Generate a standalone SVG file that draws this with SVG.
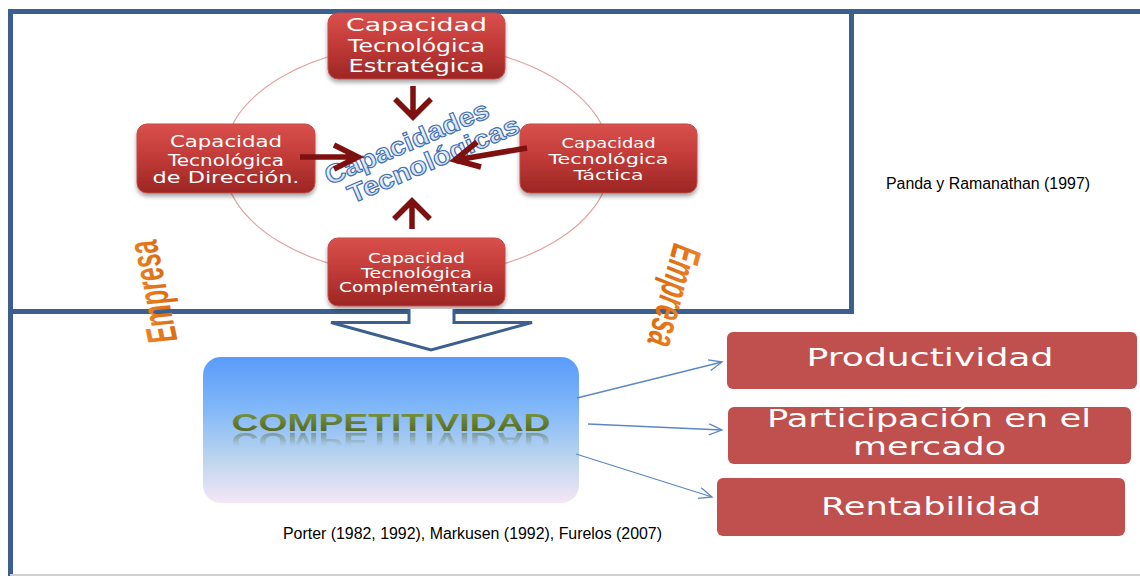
<svg xmlns="http://www.w3.org/2000/svg" width="1140" height="576" viewBox="0 0 1140 576">
<defs>
<style>
.frame{fill:none;stroke:#3b5f8f;stroke-width:5}
.cap{fill:url(#redG);stroke:#c24a47;stroke-width:1;filter:url(#sh)}
.capt{font-family:"DejaVu Sans",sans-serif;fill:#fff;text-anchor:middle}
.res{fill:#c0504d}
.rest{font-family:"DejaVu Sans",sans-serif;fill:#fff;text-anchor:middle;font-size:24px}
.cite{font-family:"Liberation Sans",Arial,sans-serif;font-size:16px;fill:#000}
.dred{fill:none;stroke:#7e1010;stroke-width:5.5}
.blue{fill:none;stroke:#5b87c4;stroke-width:1.3;marker-end:url(#ah)}
.emp{font-family:"Liberation Sans",sans-serif;font-weight:bold;font-style:italic;font-size:42px;fill:url(#orG);text-anchor:middle}
.ct{font-family:"Liberation Sans",sans-serif;font-weight:bold;font-size:26px;fill:url(#ctG);stroke:#3f6fb3;stroke-width:1.1;text-anchor:middle}
</style>
<linearGradient id="redG" x1="0" y1="0" x2="0" y2="1">
<stop offset="0" stop-color="#d9504c"/>
<stop offset="0.45" stop-color="#c33c39"/>
<stop offset="1" stop-color="#9c2624"/>
</linearGradient>
<linearGradient id="compG" x1="0" y1="0" x2="0" y2="1">
<stop offset="0" stop-color="#5a9bfb"/>
<stop offset="0.35" stop-color="#80b7f8"/>
<stop offset="0.7" stop-color="#bcd5ee"/>
<stop offset="1" stop-color="#f5e6f6"/>
</linearGradient>
<linearGradient id="orG" x1="0" y1="0" x2="0" y2="1">
<stop offset="0" stop-color="#f08a2c"/>
<stop offset="1" stop-color="#d9650a"/>
</linearGradient>
<linearGradient id="ctG" x1="0" y1="0" x2="0" y2="1">
<stop offset="0" stop-color="#ffffff"/>
<stop offset="1" stop-color="#c9daf0"/>
</linearGradient>
<linearGradient id="olG" x1="0" y1="0" x2="0" y2="1">
<stop offset="0" stop-color="#7d9a3e"/>
<stop offset="1" stop-color="#4a5f22"/>
</linearGradient>
<linearGradient id="refG" x1="0" y1="0" x2="0" y2="1">
<stop offset="0" stop-color="#fff" stop-opacity="0.5"/>
<stop offset="1" stop-color="#fff" stop-opacity="0"/>
</linearGradient>
<mask id="refM" maskUnits="userSpaceOnUse" x="200" y="432" width="380" height="20">
<rect x="200" y="433" width="380" height="13" fill="url(#refG)"/>
</mask>
<filter id="sh" x="-10%" y="-10%" width="120%" height="130%">
<feDropShadow dx="0" dy="3" stdDeviation="2" flood-color="#000" flood-opacity="0.35"/>
</filter>
<marker id="ah" markerUnits="userSpaceOnUse" markerWidth="16" markerHeight="14" refX="14" refY="6" orient="auto">
<path d="M1,0.5 L14,6 L1,11.5" fill="none" stroke="#5b87c4" stroke-width="1.3"/>
</marker>
</defs>

<rect x="0" y="0" width="1140" height="576" fill="#fff"/>

<g id="frame">
<path class="frame" d="M10.5,576 V11.5 H1140"/>
<path class="frame" d="M851.5,11.5 V311.5 H454"/>
<path class="frame" d="M409,311.5 H10.5"/>
<line x1="10" y1="575" x2="1140" y2="575" stroke="#d0d0d0" stroke-width="2"/>
<ellipse cx="417" cy="160" rx="194" ry="116" fill="none" stroke="#e3a4a2" stroke-width="1.2"/>
</g>

<g id="empresa-left">
<text class="emp" transform="translate(153,292) rotate(-102)" y="14" textLength="104" lengthAdjust="spacingAndGlyphs">Empresa</text>
</g>
<g id="empresa-right">
<text class="emp" transform="translate(674,296) rotate(105)" y="14" textLength="104" lengthAdjust="spacingAndGlyphs">Empresa</text>
</g>

<g id="capacidades-tecnologicas">
<g transform="translate(420,151) rotate(-23)">
<text class="ct" x="-9" y="-4" textLength="176" lengthAdjust="spacingAndGlyphs">Capacidades</text>
<text class="ct" x="9" y="22" textLength="184" lengthAdjust="spacingAndGlyphs">Tecnológicas</text>
</g>
</g>

<g id="cap-estrategica">
<rect class="cap" x="328" y="13" width="177" height="66" rx="10"/>
<text class="capt" font-size="18.5" x="416.5" y="31" textLength="141" lengthAdjust="spacingAndGlyphs">Capacidad</text>
<text class="capt" font-size="18.5" x="416.5" y="52" textLength="137" lengthAdjust="spacingAndGlyphs">Tecnológica</text>
<text class="capt" font-size="18.5" x="416.5" y="72" textLength="136" lengthAdjust="spacingAndGlyphs">Estratégica</text>
</g>

<g id="cap-direccion">
<rect class="cap" x="137" y="124" width="178" height="69" rx="10"/>
<text class="capt" font-size="16" x="226" y="147" textLength="112" lengthAdjust="spacingAndGlyphs">Capacidad</text>
<text class="capt" font-size="16" x="226" y="166" textLength="116" lengthAdjust="spacingAndGlyphs">Tecnológica</text>
<text class="capt" font-size="16" x="226" y="183" textLength="147" lengthAdjust="spacingAndGlyphs">de Dirección.</text>
</g>

<g id="cap-tactica">
<rect class="cap" x="520" y="124" width="177" height="69" rx="10"/>
<text class="capt" font-size="14.5" x="608.5" y="148" textLength="94" lengthAdjust="spacingAndGlyphs">Capacidad</text>
<text class="capt" font-size="14.5" x="608.5" y="164" textLength="120" lengthAdjust="spacingAndGlyphs">Tecnológica</text>
<text class="capt" font-size="14.5" x="608.5" y="180" textLength="70" lengthAdjust="spacingAndGlyphs">Táctica</text>
</g>

<g id="cap-complementaria">
<rect class="cap" x="328" y="238" width="177" height="68" rx="10"/>
<text class="capt" font-size="13.5" x="416.5" y="263" textLength="97" lengthAdjust="spacingAndGlyphs">Capacidad</text>
<text class="capt" font-size="13.5" x="416.5" y="278" textLength="111" lengthAdjust="spacingAndGlyphs">Tecnológica</text>
<text class="capt" font-size="13.5" x="416.5" y="292" textLength="155" lengthAdjust="spacingAndGlyphs">Complementaria</text>
</g>

<g id="competitividad">
<rect x="203" y="357" width="376" height="146" rx="18" fill="url(#compG)"/>
<text x="391" y="431" font-family="Liberation Sans, sans-serif" font-weight="bold" font-size="23" fill="url(#olG)" text-anchor="middle" textLength="319" lengthAdjust="spacingAndGlyphs">COMPETITIVIDAD</text>
<g mask="url(#refM)">
<text transform="translate(0,864) scale(1,-1)" x="391" y="431" font-family="Liberation Sans, sans-serif" font-weight="bold" font-size="23" fill="#5b6e34" text-anchor="middle" textLength="319" lengthAdjust="spacingAndGlyphs">COMPETITIVIDAD</text>
</g>
</g>

<g id="productividad">
<rect class="res" x="727" y="332" width="410" height="57" rx="6"/>
<text class="rest" x="930" y="366" textLength="247" lengthAdjust="spacingAndGlyphs">Productividad</text>
</g>
<g id="participacion">
<rect class="res" x="728" y="407" width="403" height="57" rx="6"/>
<text class="rest" x="929" y="427" textLength="324" lengthAdjust="spacingAndGlyphs">Participación en el</text>
<text class="rest" x="929.5" y="455" textLength="153" lengthAdjust="spacingAndGlyphs">mercado</text>
</g>
<g id="rentabilidad">
<rect class="res" x="717" y="478" width="408" height="58" rx="6"/>
<text class="rest" x="931" y="515" textLength="220" lengthAdjust="spacingAndGlyphs">Rentabilidad</text>
</g>

<g id="citations">
<text class="cite" x="886" y="189" textLength="204" lengthAdjust="spacingAndGlyphs">Panda y Ramanathan (1997)</text>
<text class="cite" x="283" y="539" textLength="379" lengthAdjust="spacingAndGlyphs">Porter (1982, 1992), Markusen (1992), Furelos (2007)</text>
</g>

<g id="connectors">
<path d="M409,309 V322.5 H331 L431,350 L532,322.5 H454 V309" fill="#fff" stroke="#3b5f8f" stroke-width="3" stroke-linejoin="miter"/>
<path class="dred" d="M413,86 V116 M395,99 L413,117 L431,99"/>
<path class="dred" d="M412,229 V202 M394,219 L412,201 L430,219"/>
<path class="dred" d="M300,157 H357 M334,145 L358,157 L334,169"/>
<path class="dred" d="M527,148 L456,160 M477,142 L455,160 L481,167"/>
<path class="blue" d="M577,398 L722,362"/>
<path class="blue" d="M588,424 L722,430"/>
<path class="blue" d="M576,454 L712,497"/>
</g>
</svg>
